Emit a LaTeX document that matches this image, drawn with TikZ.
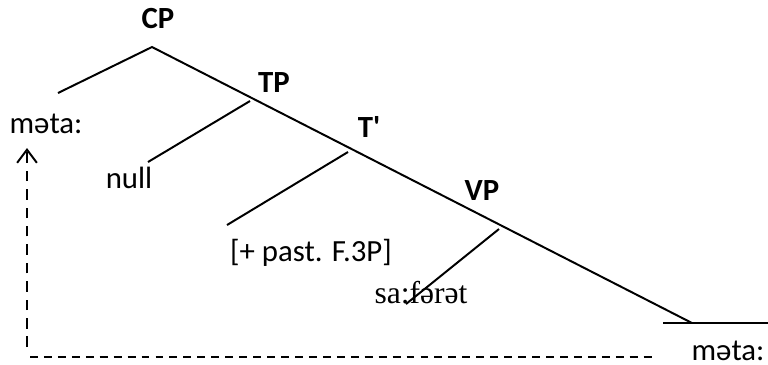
\documentclass[tikz,border=0pt]{standalone}
\usepackage{fontspec}
\setmainfont{Carlito}
\newfontfamily\ipaserif{Liberation Serif}
\usetikzlibrary{arrows.meta}

\begin{document}
\begin{tikzpicture}[x=0.38pt, y=-0.38pt, line width=0.75pt,
  font=\fontsize{11.7}{14}\selectfont,
  word/.style={anchor=base, inner sep=0pt},
  cat/.style={word, font=\fontsize{11.7}{14}\selectfont\bfseries},
  movement/.style={dash pattern=on 4pt off 3pt}]
\useasboundingbox (0,0) rectangle (768,364);
% branch points
\coordinate (cp)    at (152,47);
\coordinate (spec)  at (58,93);
\coordinate (tp)    at (250,101);
\coordinate (nullend) at (148,162);
\coordinate (tbar)  at (348,152);
\coordinate (featend) at (227,225);
\coordinate (vp)    at (499,229);
\coordinate (verbend) at (406,304);
\coordinate (vend)  at (692,323);
\coordinate (baseL) at (663,323);
\coordinate (baseR) at (768,323);
% labels
\node[cat] (catCP) at (158,28)  {CP};
\node[cat] (catTP) at (274,92)  {TP};
\node[cat] (catT)  at (369,137) {T\textquotesingle};
\node[cat] (catVP) at (482,200) {VP};
\node[word] (mataL) at (46,133)  {mǝta:};
\node[word] (null)  at (129,188) {null};
\node[word] (feat)  at (311,261) {[+ past. F.3P]};
\node[word] (verb)  at (421,303) {\fontsize{12}{14}\ipaserif sa:fǝrǝt};
\node[word] (mataR) at (728,360) {mǝta:};
% tree
\draw (spec) -- (cp) -- (vend);
\draw (tp) -- (nullend);
\draw (tbar) -- (featend);
\draw (vp) -- (verbend);
\draw (baseL) -- (baseR);
% movement
\coordinate (movefoot) at (27,347);
\coordinate (movetip)  at (27,148);
\coordinate (trailL) at (30,357);
\coordinate (trailR) at (652,357);
\draw[movement, -{Straight Barb[length=5pt, width=7.5pt]}] (movefoot) -- (movetip);
\draw[dash pattern=on 3pt off 2.3pt] (trailL) -- (trailR);
\end{tikzpicture}
\end{document}
